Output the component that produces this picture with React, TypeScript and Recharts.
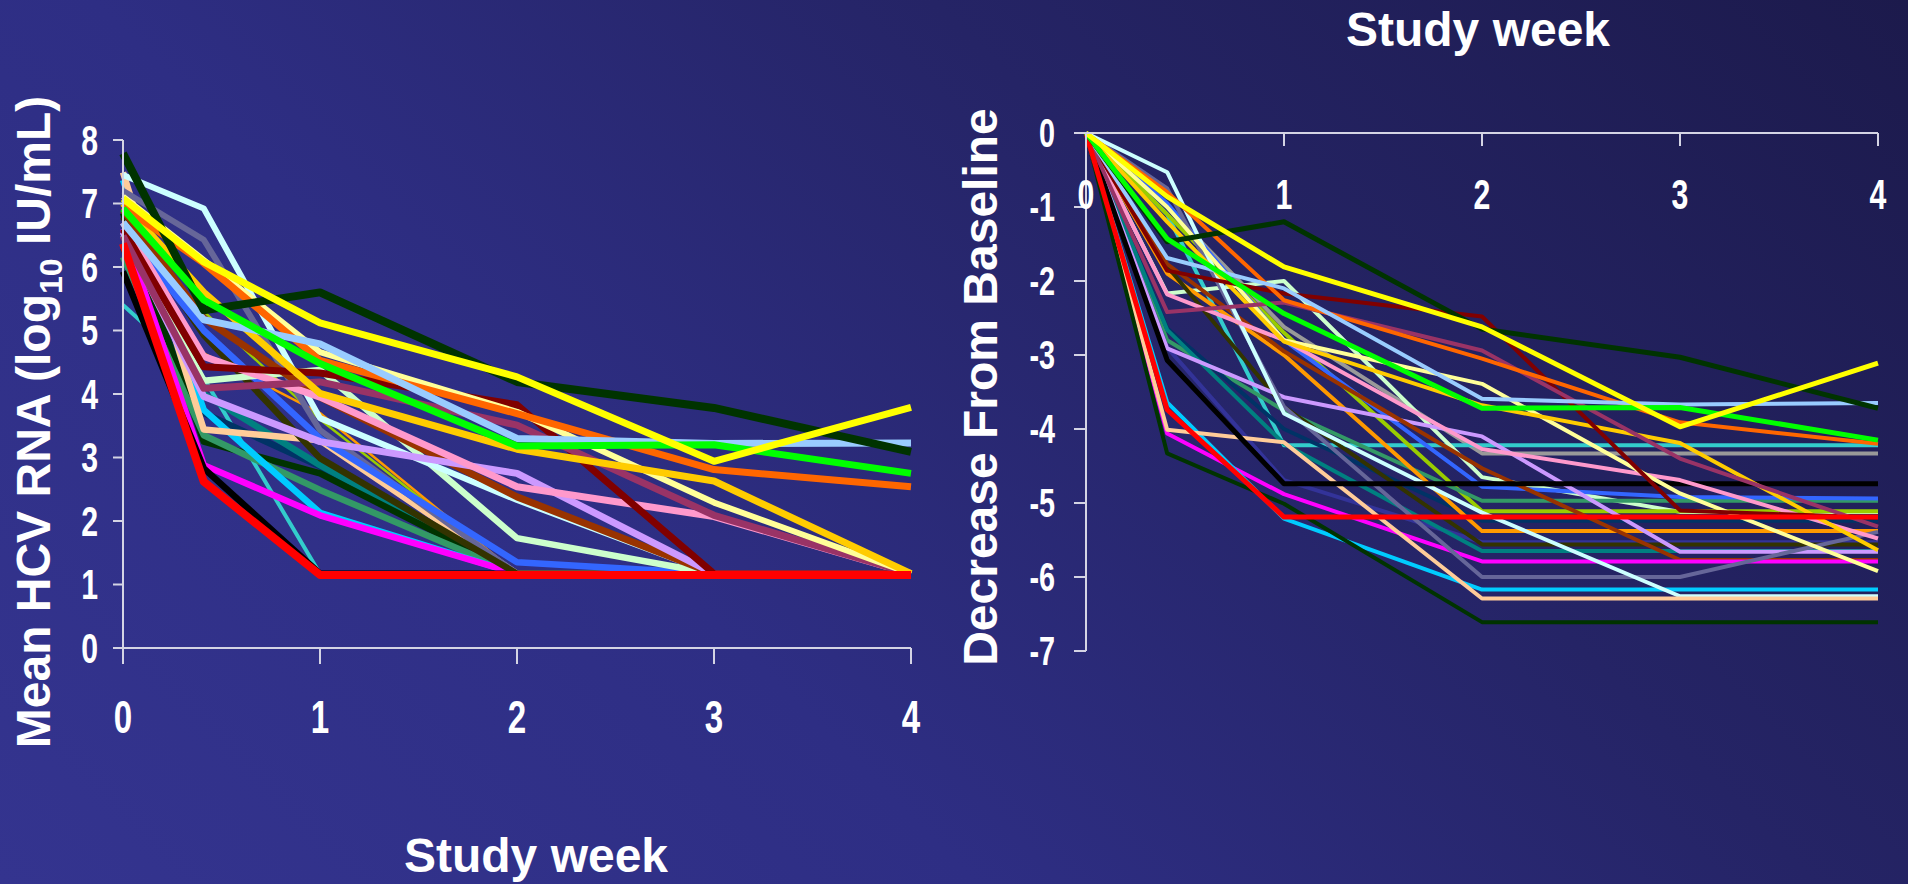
import React from 'react';
import { LineChart, Line, XAxis, YAxis, ReferenceLine } from 'recharts';

// study week of each visit (day 3 sits just before week 1)
const weeks = [0, 0.41, 1, 2, 3, 4];
const weekTicks = [0, 1, 2, 3, 4];
const rnaTicks = [0, 1, 2, 3, 4, 5, 6, 7, 8];
const dropTicks = [0, -1, -2, -3, -4, -5, -6, -7];

// left panel: HCV RNA per patient, log10 IU/mL
const rnaValues: number[][] = [
  [6.3, 5.3, 3.6, 1.17, 1.17, 1.17],
  [6.5, 4.64, 3.7, 1.17, 1.17, 1.17],
  [5.4, 4.25, 1.17, 1.17, 1.17, 1.17],
  [6.3, 3.7, 2.86, 1.17, 1.17, 1.17],
  [6.6, 4.0, 2.88, 1.17, 1.17, 1.17],
  [6.85, 3.25, 2.75, 1.17, 1.17, 1.17],
  [6.16, 3.35, 2.49, 1.17, 1.17, 1.17],
  [7.37, 3.75, 2.13, 1.17, 1.17, 1.17],
  [6.6, 2.88, 2.09, 1.17, 1.17, 1.17],
  [5.93, 2.83, 1.17, 1.17, 1.17, 1.17],
  [7.49, 3.44, 3.27, 1.17, 1.17, 1.17],
  [7.2, 6.43, 3.43, 1.17, 1.17, 1.17],
  [6.79, 4.93, 2.99, 1.17, 1.17, 1.17],
  [6.6, 5.0, 3.3, 1.35, 1.17, 1.17],
  [6.5, 4.21, 4.38, 1.73, 1.17, 1.17],
  [7.45, 6.92, 3.62, 2.33, 1.17, 1.17],
  [6.9, 5.19, 3.95, 2.38, 1.17, 1.17],
  [6.55, 3.96, 3.25, 2.75, 1.17, 1.17],
  [6.7, 4.59, 3.95, 2.54, 2.07, 1.17],
  [6.6, 4.43, 4.33, 3.83, 1.17, 1.17],
  [6.49, 4.09, 4.19, 3.51, 2.09, 1.17],
  [7.11, 6.11, 4.66, 3.72, 2.29, 1.17],
  [7.0, 5.6, 4.01, 3.13, 2.63, 1.17],
  [6.95, 6.06, 4.53, 3.69, 2.81, 2.54],
  [6.7, 5.17, 4.79, 3.3, 3.22, 3.23],
  [7.79, 5.32, 5.6, 4.19, 3.78, 3.09],
  [6.92, 5.48, 4.48, 3.18, 3.2, 2.75],
  [7.08, 6.08, 5.12, 4.27, 2.94, 3.79],
  [6.37, 2.62, 1.15, 1.15, 1.15, 1.15],
];
const rnaColors = [
  '#99cc00', '#ff9900', '#33cccc', '#003366', '#008080', '#003300', '#339966', '#00ccff',
  '#ff00ff', '#000000', '#ffcc99', '#666699', '#333300', '#3366ff', '#ccffcc', '#ccffff',
  '#993300', '#cc99ff', '#ff99cc', '#800000', '#993366', '#ffff99', '#ffcc00', '#ff6600',
  '#99ccff', '#003300', '#00ff00', '#ffff00', '#ff0000',
];
const rnaWidths = [
  2.5, 2.5, 4, 6.5, 6.5, 6.5, 6.5, 6.5, 6.5, 6.5, 6.5, 6, 6.5, 6.5, 6.5, 6,
  7, 7, 7, 7, 7, 6, 7, 7, 7, 8, 7, 7, 8,
];

// right panel: decrease from baseline per patient
const dropValues: number[][] = [
  [0, -1.0, -2.62, -4.33, -4.33, -4.33],
  [0, -1.1, -4.22, -4.22, -4.22, -4.22],
  [0, -2.17, -2.0, -4.65, -5.12, -5.12],
  [0, -1.1, -2.7, -5.11, -5.11, -5.11],
  [0, -2.8, -3.75, -4.97, -4.97, -4.97],
  [0, -0.95, -2.8, -4.78, -4.92, -4.94],
  [0, -2.64, -4.0, -5.24, -5.24, -5.24],
  [0, -1.9, -3.0, -5.38, -5.38, -5.38],
  [0, -2.9, -4.69, -5.53, -5.53, -5.53],
  [0, -1.8, -3.7, -5.56, -5.56, -5.56],
  [0, -2.66, -4.2, -5.65, -5.65, -5.65],
  [0, -2.91, -3.57, -4.1, -5.66, -5.66],
  [0, -1.77, -2.95, -4.53, -5.77, -5.77],
  [0, -4.06, -4.88, -5.79, -5.79, -5.79],
  [0, -0.75, -3.7, -6.0, -6.0, -5.39],
  [0, -3.64, -5.21, -6.17, -6.17, -6.17],
  [0, -0.53, -3.79, -5.13, -6.26, -6.26],
  [0, -4.01, -4.18, -6.29, -6.29, -6.29],
  [0, -4.33, -5.01, -6.61, -6.61, -6.61],
  [0, -3.07, -4.74, -4.74, -4.74, -4.74],
  [0, -2.18, -2.8, -4.27, -4.69, -5.48],
  [0, -1.0, -2.8, -3.39, -4.87, -5.92],
  [0, -1.2, -2.82, -3.68, -4.19, -5.64],
  [0, -1.86, -2.17, -2.48, -5.1, -5.2],
  [0, -2.42, -2.29, -2.94, -4.4, -5.32],
  [0, -0.8, -2.26, -3.05, -3.91, -4.2],
  [0, -1.69, -2.1, -3.59, -3.67, -3.65],
  [0, -3.74, -5.19, -5.19, -5.19, -5.19],
  [0, -1.47, -1.2, -2.65, -3.03, -3.72],
  [0, -1.43, -2.44, -3.72, -3.71, -4.15],
  [0, -0.86, -1.81, -2.62, -3.97, -3.11],
];
const dropColors = [
  '#999999', '#33cccc', '#ccffcc', '#99cc00', '#339966', '#3366ff', '#003366', '#ff9900',
  '#333399', '#333300', '#008080', '#cc99ff', '#993300', '#ff00ff', '#666699', '#00ccff',
  '#ccffff', '#ffcc99', '#003300', '#000000', '#ff99cc', '#ffff99', '#ffcc00', '#800000',
  '#993366', '#ff6600', '#99ccff', '#ff0000', '#003300', '#00ff00', '#ffff00',
];
const dropWidths = [
  4, 4, 4, 4, 4, 4, 4, 4, 4, 4, 4, 4, 4, 4, 4, 4,
  4, 4, 4, 5, 4, 4, 4, 4, 4, 4, 4, 5, 5, 5, 5,
];

const toRows = (values: number[][]) =>
  weeks.map((w, i) => {
    const row: Record<string, number> = { week: w };
    values.forEach((v, j) => {
      row['p' + j] = v[i];
    });
    return row;
  });

const rnaRows = toRows(rnaValues);
const dropRows = toRows(dropValues);

const axisColor = '#d4d4e4';
const titleFont = "'Liberation Sans', Arial, sans-serif";
const axisLine = { stroke: axisColor, strokeWidth: 2 };

// condensed bold tick label, squeezed horizontally like Arial Narrow
const NarrowTick = (props: any) => {
  const { x, y, payload, textAnchor, verticalAnchor, size } = props;
  const dy = verticalAnchor === 'start' ? '0.71em' : verticalAnchor === 'end' ? '0' : '0.355em';
  return (
    <text
      transform={`translate(${x},${y}) scale(0.72,1)`}
      textAnchor={textAnchor}
      dy={dy}
      fill="#ffffff"
      fontSize={size}
      fontWeight="bold"
      fontFamily={titleFont}
    >
      {payload.value}
    </text>
  );
};

const App = () => {
  return (
    <div
      style={{
        position: 'fixed',
        left: 0,
        top: 0,
        width: 1908,
        height: 884,
        overflow: 'hidden',
        background: 'linear-gradient(225deg, #1c1a4c 0%, #252466 35%, #2e2e84 65%, #34348f 100%)',
      }}
    >
      <div style={{ position: 'absolute', left: 0, top: 0 }}>
        <LineChart width={960} height={884} data={rnaRows} margin={{ top: 140, right: 49, left: 0, bottom: 136 }}>
          <XAxis
            dataKey="week"
            type="number"
            domain={[0, 4]}
            ticks={weekTicks}
            interval={0}
            height={100}
            tickSize={16}
            tickMargin={36}
            axisLine={axisLine}
            tickLine={axisLine}
            tick={<NarrowTick size={46} />}
          />
          <YAxis
            type="number"
            domain={[0, 8]}
            ticks={rnaTicks}
            interval={0}
            width={123}
            tickSize={10}
            tickMargin={15}
            axisLine={axisLine}
            tickLine={axisLine}
            tick={<NarrowTick size={42} />}
          />
          {rnaValues.map((_, j) => (
            <Line
              key={'l' + j}
              type="linear"
              dataKey={'p' + j}
              stroke={rnaColors[j]}
              strokeWidth={rnaWidths[j]}
              strokeLinejoin="round"
              dot={false}
              activeDot={false}
              isAnimationActive={false}
            />
          ))}
        </LineChart>
      </div>

      <div style={{ position: 'absolute', left: 960, top: 0 }}>
        <LineChart width={948} height={884} data={dropRows} margin={{ top: 133, right: 30, left: 0, bottom: 233 }}>
          <XAxis
            dataKey="week"
            type="number"
            domain={[0, 4]}
            ticks={weekTicks}
            interval={0}
            orientation="top"
            mirror
            height={60}
            tickSize={13}
            tickMargin={33}
            axisLine={axisLine}
            tickLine={axisLine}
            tick={<NarrowTick size={42} />}
          />
          <YAxis
            type="number"
            domain={[-7, 0]}
            ticks={dropTicks}
            interval={0}
            width={126}
            tickSize={12}
            tickMargin={19}
            axisLine={axisLine}
            tickLine={axisLine}
            tick={<NarrowTick size={40} />}
          />
          <ReferenceLine y={0} stroke={axisColor} strokeWidth={2} />
          {dropValues.map((_, j) => (
            <Line
              key={'r' + j}
              type="linear"
              dataKey={'p' + j}
              stroke={dropColors[j]}
              strokeWidth={dropWidths[j]}
              strokeLinejoin="round"
              dot={false}
              activeDot={false}
              isAnimationActive={false}
            />
          ))}
        </LineChart>
      </div>

      <svg
        width={1908}
        height={884}
        style={{ position: 'absolute', left: 0, top: 0, pointerEvents: 'none' }}
        fontFamily={titleFont}
        fontWeight="bold"
        fill="#ffffff"
      >
        <text transform="translate(50,422) rotate(-90)" textAnchor="middle" fontSize={48}>
          Mean HCV RNA (log
          <tspan fontSize={32} dy={12}>10</tspan>
          <tspan dy={-12}> IU/mL)</tspan>
        </text>
        <text x={536} y={872} textAnchor="middle" fontSize={48}>
          Study week
        </text>
        <text x={1478} y={46} textAnchor="middle" fontSize={48}>
          Study week
        </text>
        <text transform="translate(997,387) rotate(-90)" textAnchor="middle" fontSize={48}>
          Decrease From Baseline
        </text>
      </svg>
    </div>
  );
};

export default App;
